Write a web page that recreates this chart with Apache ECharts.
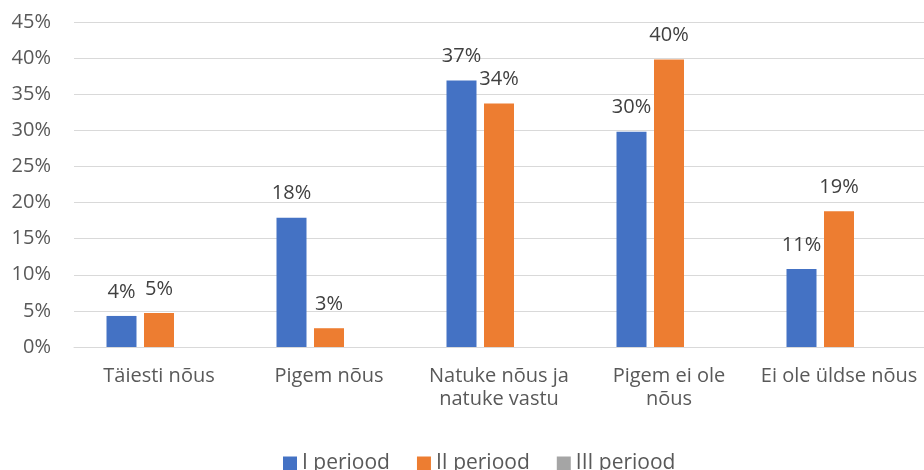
<!DOCTYPE html>
<html>
<head>
<meta charset="utf-8">
<script src="https://cdn.jsdelivr.net/npm/echarts@6/dist/echarts.min.js"></script>
<style>
  html, body { margin: 0; padding: 0; background: #fff; }
  #chart { width: 924px; height: 470px; }
</style>
</head>
<body>
<div id="chart"></div>
<script>
// categories (line breaks as in the original axis labels)
const categories = [
  "Täiesti nõus",
  "Pigem nõus",
  "Natuke nõus ja\nnatuke vastu",
  "Pigem ei ole\nnõus",
  "Ei ole üldse nõus"
];
const seriesNames = ["I periood", "II periood", "III periood"];
// values in percent
const period1 = [4.3, 17.9, 36.9, 29.8, 10.8];
const period2 = [4.7, 2.6, 33.7, 39.8, 18.8];
const period3 = [null, null, null, null, null];

const colors = ["#4472C4", "#ED7D31", "#A5A5A5"];
const fontFamily = "'Open Sans', sans-serif";

const chart = echarts.init(document.getElementById("chart"));

function makeSeries(name, data, color) {
  return {
    name: name,
    type: "bar",
    data: data,
    barWidth: 30,
    barGap: "25%",
    itemStyle: { color: color },
    label: {
      show: true,
      position: "top",
      distance: 14,
      color: "#404040",
      fontSize: 20,
      fontFamily: fontFamily,
      formatter: p => Math.round(p.value) + "%"
    },
    animation: false
  };
}

chart.setOption({
  color: colors,
  animation: false,
  grid: {
    left: 74,
    right: 0,
    top: 22,
    bottom: 123
  },
  legend: {
    data: seriesNames,
    top: 453,
    left: 283,
    padding: 0,
    itemWidth: 14,
    itemHeight: 14,
    itemGap: 27,
    icon: "rect",
    textStyle: {
      color: "#595959",
      fontSize: 21,
      fontFamily: fontFamily
    }
  },
  xAxis: {
    type: "category",
    data: categories,
    axisTick: { show: false },
    axisLine: { lineStyle: { color: "#D9D9D9", width: 1 } },
    axisLabel: {
      interval: 0,
      margin: 18,
      color: "#595959",
      fontSize: 20,
      lineHeight: 23,
      fontFamily: fontFamily
    }
  },
  yAxis: {
    type: "value",
    min: 0,
    max: 45,
    interval: 5,
    axisLine: { show: false },
    axisTick: { show: false },
    splitLine: { lineStyle: { color: "#D9D9D9", width: 1 } },
    axisLabel: {
      margin: 23,
      color: "#595959",
      fontSize: 20,
      fontFamily: fontFamily,
      formatter: "{value}%"
    }
  },
  series: [
    makeSeries(seriesNames[0], period1, colors[0]),
    makeSeries(seriesNames[1], period2, colors[1]),
    makeSeries(seriesNames[2], period3, colors[2])
  ]
});
</script>
</body>
</html>
